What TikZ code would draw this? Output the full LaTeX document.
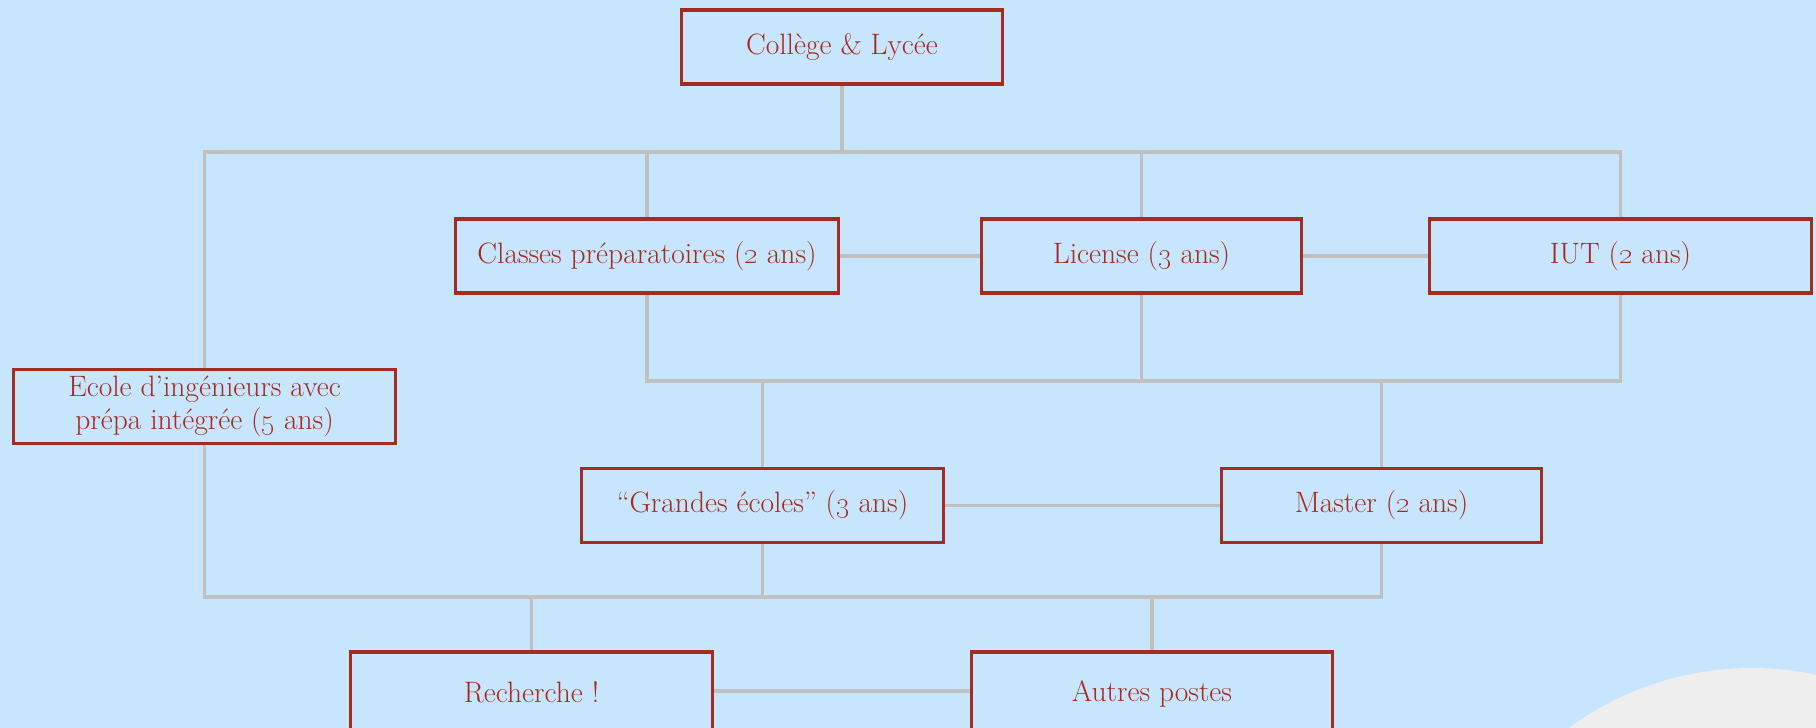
\documentclass[tikz,border=0pt]{standalone}
\definecolor{bg}{HTML}{C7E5FC}
\definecolor{boxred}{HTML}{A52A1F}
\definecolor{conn}{HTML}{C0C0C0}
\definecolor{blob}{HTML}{EEEEEE}
\newcommand{\osn}[1]{\oldstylenums{#1}}
\begin{document}
\begin{tikzpicture}[x=1pt,y=-1pt,
  box/.style={draw=boxred, line width=3.5pt, text=boxred,
    font=\fontsize{29.5}{33}\selectfont, align=center,
    minimum height=74pt, inner sep=0pt},
  link/.style={draw=conn, line width=3.5pt}]
\fill[bg] (0,0) rectangle (1816,728);
\begin{scope}
\clip (0,0) rectangle (1816,728);
\fill[blob] (1752,977) circle[radius=309pt];
\end{scope}
\useasboundingbox (0,0) rectangle (1816,728);

\node[box, minimum width=321pt] (col) at (842,47) {Collège \& Lycée};
\node[box, minimum width=383pt] (cla) at (647,256) {Classes préparatoires (\osn{2} ans)};
\node[box, minimum width=320pt] (lic) at (1141.5,256) {License (\osn{3} ans)};
\node[box, minimum width=382pt] (iut) at (1620.5,256) {IUT (\osn{2} ans)};
\node[box, minimum width=382pt] (eco) at (204.5,406.5) {Ecole d’ingénieurs avec\\prépa intégrée (\osn{5} ans)};
\node[box, minimum width=362pt] (gra) at (762.5,505.5) {“Grandes écoles” (\osn{3} ans)};
\node[box, minimum width=320pt] (mas) at (1381.5,505.5) {Master (\osn{2} ans)};
\node[box, minimum width=362pt, minimum height=84pt] (rec) at (531.5,694) {\raisebox{4pt}{Recherche !}};
\node[box, minimum width=361pt, minimum height=84pt] (aut) at (1152,694) {\raisebox{4pt}{Autres postes}};

\coordinate (j1) at (842,152);
\coordinate (j2) at (0,381);
\coordinate (j3) at (0,597);
\coordinate (j4) at (0,691);

% top level
\draw[link] (col.south) -- (j1);
\draw[link] (eco.north) -- (eco.north |- j1) -| (iut.north);
\draw[link] (cla.north) -- (cla.north |- j1);
\draw[link] (lic.north) -- (lic.north |- j1);
\draw[link] (cla.east) -- (lic.west);
\draw[link] (lic.east) -- (iut.west);

% middle level
\draw[link] (cla.south) -- (cla.south |- j2) -| (iut.south);
\draw[link] (lic.south) -- (lic.south |- j2);
\draw[link] (gra.north) -- (gra.north |- j2);
\draw[link] (mas.north) -- (mas.north |- j2);
\draw[link] (gra.east) -- (mas.west);

% bottom level
\draw[link] (eco.south) -- (eco.south |- j3) -| (mas.south);
\draw[link] (gra.south) -- (gra.south |- j3);
\draw[link] (rec.north) -- (rec.north |- j3);
\draw[link] (aut.north) -- (aut.north |- j3);
\draw[link] (rec.east |- j4) -- (aut.west |- j4);
\end{tikzpicture}
\end{document}
